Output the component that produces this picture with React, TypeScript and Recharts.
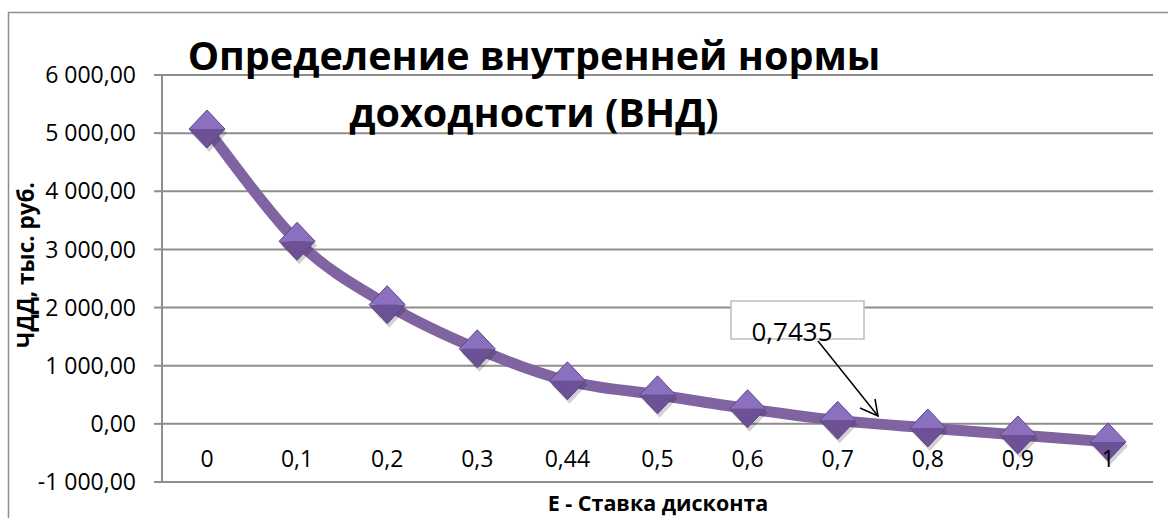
import React from 'react';
import { LineChart, Line, XAxis, YAxis, CartesianGrid, Customized } from 'recharts';

const categories = ['0', '0,1', '0,2', '0,3', '0,44', '0,5', '0,6', '0,7', '0,8', '0,9', '1'];
const npvValues = [5070, 3140, 2050, 1290, 740, 500, 260, 60, -70, -190, -310];
const yTicks = [-1000, 0, 1000, 2000, 3000, 4000, 5000, 6000];
const titleLines = ['Определение внутренней нормы', 'доходности (ВНД)'];
const yTitle = 'ЧДД, тыс. руб.';
const xTitle = 'Е - Ставка дисконта';
const irrLabel = '0,7435';

const data = categories.map((c, i) => ({ cat: c, npv: npvValues[i] }));

const FONT = '"Open Sans", "Noto Sans", sans-serif';
const GRID = '#8e8e8e';

function fmt(v: number): string {
  const neg = v < 0;
  const a = Math.abs(v);
  const s = Math.round(a).toString().replace(/\B(?=(\d{3})+(?!\d))/g, ' ');
  return (neg ? '-' : '') + s + ',00';
}

// Excel-like smoothed line (Catmull-Rom as cubic Bezier segments)
function excelSmooth(context: any) {
  let pts: number[][] = [];
  return {
    areaStart() {},
    areaEnd() {},
    lineStart() {
      pts = [];
    },
    point(x: number, y: number) {
      pts.push([+x, +y]);
    },
    lineEnd() {
      if (!pts.length) return;
      context.moveTo(pts[0][0], pts[0][1]);
      for (let i = 0; i < pts.length - 1; i++) {
        const p0 = pts[i - 1] || pts[i];
        const p1 = pts[i];
        const p2 = pts[i + 1];
        const p3 = pts[i + 2] || p2;
        const c1x = p1[0] + (p2[0] - p0[0]) / 6;
        const c1y = p1[1] + (p2[1] - p0[1]) / 6;
        const c2x = p2[0] - (p3[0] - p1[0]) / 6;
        const c2y = p2[1] - (p3[1] - p1[1]) / 6;
        context.bezierCurveTo(c1x, c1y, c2x, c2y, p2[0], p2[1]);
      }
    },
  };
}

const Diamond = (props: any) => {
  const { cx, cy } = props;
  if (cx == null || cy == null) return null;
  const w = 18;
  const h = 19;
  return (
    <g>
      <polygon
        points={`${cx + 2},${cy - h + 4} ${cx + w + 2},${cy + 4} ${cx + 2},${cy + h + 4} ${cx - w + 2},${cy + 4}`}
        fill="#000"
        opacity={0.18}
      />
      <polygon points={`${cx},${cy - h} ${cx + w},${cy} ${cx - w},${cy}`} fill="#8c70c0" />
      <polygon points={`${cx - w},${cy} ${cx + w},${cy} ${cx},${cy + h}`} fill="#6c5196" />
      <polygon
        points={`${cx},${cy - h} ${cx + w},${cy} ${cx},${cy + h} ${cx - w},${cy}`}
        fill="none"
        stroke="#5e4684"
        strokeWidth={1}
      />
    </g>
  );
};

const XTick = (props: any) => {
  const { x, payload } = props;
  return (
    <text x={x} y={467} textAnchor="middle" fontFamily={FONT} fontSize={23} fill="#000">
      {payload.value}
    </text>
  );
};

const Overlay = () => (
  <g>
    <rect x={8.5} y={12.5} width={1200} height={600} fill="none" stroke={GRID} strokeWidth={1.5} />
    <text x={534} y={70} textAnchor="middle" fontFamily={FONT} fontWeight={700} fontSize={39.5} fill="#000">
      {titleLines[0]}
    </text>
    <text x={534} y={127} textAnchor="middle" fontFamily={FONT} fontWeight={700} fontSize={39.5} fill="#000">
      {titleLines[1]}
    </text>
    <text
      x={34}
      y={265}
      transform="rotate(-90 34 265)"
      textAnchor="middle"
      fontFamily={FONT}
      fontWeight={700}
      fontSize={22.5}
      fill="#000"
    >
      {yTitle}
    </text>
    <text x={658} y={511} textAnchor="middle" fontFamily={FONT} fontWeight={700} fontSize={21.5} fill="#000">
      {xTitle}
    </text>
    <rect x={731} y={301} width={133} height={38} fill="#fff" stroke="#bfbfbf" strokeWidth={1.5} />
    <text x={792} y={341} textAnchor="middle" fontFamily={FONT} fontSize={26} fill="#000">
      {irrLabel}
    </text>
    <line x1={818} y1={341} x2={878} y2={416} stroke="#000" strokeWidth={1.5} />
    <polyline points="860,408 878,416 875,399" fill="none" stroke="#000" strokeWidth={1.5} />
  </g>
);

export default function App() {
  return (
    <div style={{ position: 'absolute', left: 0, top: 0, background: '#fff' }}>
      <LineChart width={1168} height={518} data={data} margin={{ top: 75, right: 15, bottom: 0, left: 0 }}>
        <CartesianGrid vertical={false} stroke={GRID} strokeWidth={2} />
        <XAxis
          dataKey="cat"
          height={36}
          axisLine={false}
          tickLine={false}
          padding={{ left: 45, right: 45 }}
          tick={<XTick />}
          interval={0}
        />
        <YAxis
          width={162}
          domain={[-1000, 6000]}
          ticks={yTicks}
          interval={0}
          tickFormatter={fmt}
          axisLine={{ stroke: GRID, strokeWidth: 2 }}
          tickLine={{ stroke: GRID, strokeWidth: 2 }}
          tickSize={8}
          tickMargin={18}
          tick={{ fontFamily: FONT, fontSize: 23, fill: '#000' }}
        />
        <Line
          type={excelSmooth as any}
          dataKey="npv"
          stroke="#8064A2"
          strokeWidth={11}
          dot={<Diamond />}
          activeDot={false}
          isAnimationActive={false}
        />
        <Customized component={Overlay} />
      </LineChart>
    </div>
  );
}
